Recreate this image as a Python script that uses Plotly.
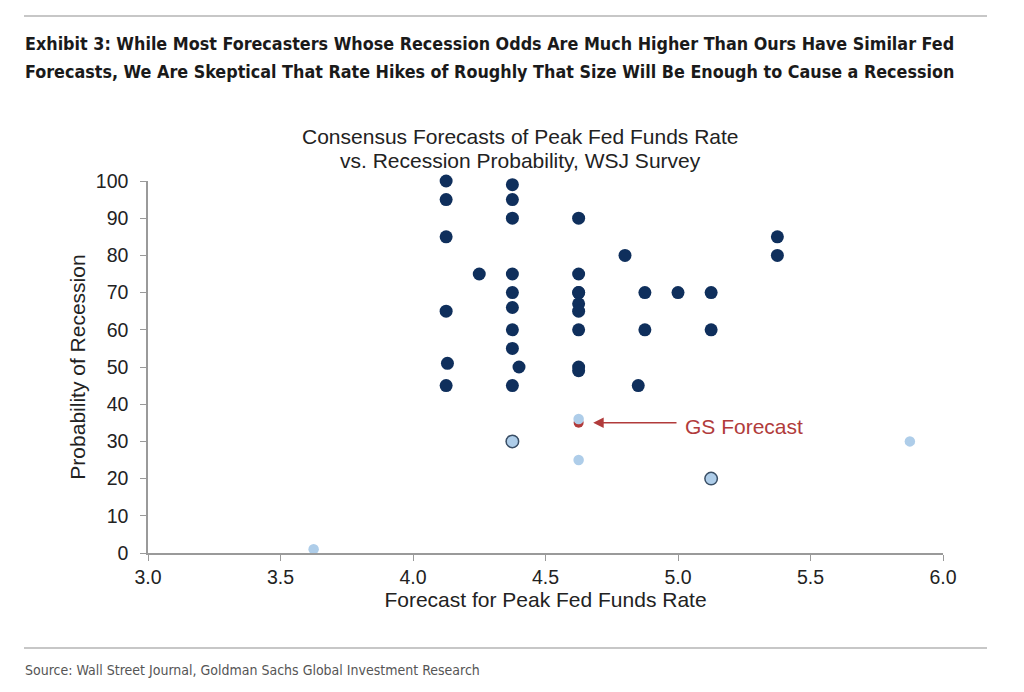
import plotly.graph_objects as go

# Dark navy: other forecasters
dark_x = [4.125, 4.125, 4.125, 4.125, 4.13, 4.125,
          4.25,
          4.375, 4.375, 4.375, 4.375, 4.375, 4.375, 4.375, 4.375, 4.375, 4.4, 4.375,
          4.625, 4.625, 4.625, 4.625, 4.625, 4.625, 4.625, 4.625, 4.625,
          4.8, 4.85, 4.875, 4.875, 5.0, 5.125, 5.125, 5.375, 5.375]
dark_y = [100, 95, 85, 65, 51, 45,
          75,
          99, 95, 90, 75, 70, 66, 60, 55, 45, 50, 30,
          90, 75, 70, 70, 67, 65, 60, 50, 49,
          80, 45, 70, 60, 70, 70, 60, 85, 80]

# Light blue points
light_x = [4.625, 4.625, 5.875, 3.625]
light_y = [36, 25, 30, 1]

# Light blue points with outline (overlapping observations)
outl_x = [4.375, 5.125]
outl_y = [30, 20]

# GS forecast
gs_x = [4.625]
gs_y = [35]

x_ticks = [3.0, 3.5, 4.0, 4.5, 5.0, 5.5, 6.0]
x_ticktext = ["3.0", "3.5", "4.0", "4.5", "5.0", "5.5", "6.0"]
y_ticks = [0, 10, 20, 30, 40, 50, 60, 70, 80, 90, 100]

title_lines = ["<b>Exhibit 3: While Most Forecasters Whose Recession Odds Are Much Higher Than Ours Have Similar Fed</b>",
               "<b>Forecasts, We Are Skeptical That Rate Hikes of Roughly That Size Will Be Enough to Cause a Recession</b>"]
subtitle_lines = ["Consensus Forecasts of Peak Fed Funds Rate",
                  "vs. Recession Probability, WSJ Survey"]
source_text = "Source: Wall Street Journal, Goldman Sachs Global Investment Research"

NAVY = "#0f2f5c"
LIGHT = "#aecde9"
RED = "#b13b3b"
GRAY = "#9a9a9a"
FONT = "Liberation Sans, Arial, sans-serif"
TITLE_FONT = "DejaVu Sans Condensed, Liberation Sans Narrow, sans-serif"

L, R, T, B = 140, 89, 173, 147
PW = 1024 - L - R   # plot width px
PH = 692 - T - B    # plot height px
OFF = 8             # page offset
plot_left = L + OFF
plot_top = T + OFF
plot_bottom = 692 - B + OFF

def px_x(px):
    return (px - plot_left) / PW

fig = go.Figure()
fig.add_trace(go.Scatter(x=dark_x, y=dark_y, mode="markers",
                         marker=dict(size=13, color=NAVY, line=dict(width=0)),
                         cliponaxis=False, showlegend=False))
fig.add_trace(go.Scatter(x=gs_x, y=gs_y, mode="markers",
                         marker=dict(size=10, color=RED, line=dict(width=0)),
                         cliponaxis=False, showlegend=False))
fig.add_trace(go.Scatter(x=light_x, y=light_y, mode="markers",
                         marker=dict(size=10.5, color=LIGHT, line=dict(width=0)),
                         cliponaxis=False, showlegend=False))
fig.add_trace(go.Scatter(x=outl_x, y=outl_y, mode="markers",
                         marker=dict(size=12.5, color=LIGHT, line=dict(width=1.5, color="#3a4f66")),
                         cliponaxis=False, showlegend=False))

axis_common = dict(showgrid=False, zeroline=False, showline=True, linecolor=GRAY,
                   linewidth=1.5, ticks="outside", tickcolor=GRAY, ticklen=6,
                   tickfont=dict(family=FONT, size=19.5, color="#222"))

fig.update_xaxes(range=[3, 6], tickvals=x_ticks, ticktext=x_ticktext,
                 ticklabelstandoff=0,
                 title=dict(text="Forecast for Peak Fed Funds Rate", standoff=0,
                            font=dict(family=FONT, size=21, color="#222")),
                 **axis_common)
fig.update_yaxes(range=[0, 100], tickvals=y_ticks, ticklabelstandoff=8,
                 title=dict(text="Probability of Recession", standoff=4,
                            font=dict(family=FONT, size=21, color="#222")),
                 **axis_common)

fig.add_annotation(x=4.68, y=35, ax=5.0, ay=35, axref="x", ayref="y",
                   xref="x", yref="y", text="", showarrow=True,
                   arrowhead=2, arrowsize=1.4, arrowwidth=1.5, arrowcolor=RED)
fig.add_annotation(x=5.02, y=34, xref="x", yref="y", text="GS Forecast",
                   showarrow=False, xanchor="left",
                   font=dict(family=FONT, size=21, color=RED))

# chart subtitle (two centred lines)
for line, cy in zip(subtitle_lines, [136, 160]):
    fig.add_annotation(xref="paper", yref="paper", x=px_x(520), y=1.0,
                       yshift=plot_top - cy, xanchor="center", yanchor="middle",
                       text=line, showarrow=False,
                       font=dict(family=FONT, size=21, color="#222"))

# exhibit title
for line, cy in zip(title_lines, [43, 71]):
    fig.add_annotation(xref="paper", yref="paper", x=px_x(23), y=1.0,
                       yshift=plot_top - cy, xanchor="left", yanchor="middle",
                       text=line, showarrow=False,
                       font=dict(family=TITLE_FONT, size=17.8, color="#1a1a1a"))

fig.add_annotation(xref="paper", yref="paper", x=px_x(23), y=0,
                   yshift=plot_bottom - 670, xanchor="left", yanchor="middle",
                   text=source_text, showarrow=False,
                   font=dict(family=TITLE_FONT, size=14, color="#555"))

# horizontal rules
x0, x1 = px_x(24), px_x(987)
fig.add_shape(type="line", xref="paper", yref="paper", x0=x0, x1=x1,
              y0=1.0 + (plot_top - 16) / PH, y1=1.0 + (plot_top - 16) / PH,
              line=dict(color="#b5b5b5", width=1.5))
fig.add_shape(type="line", xref="paper", yref="paper", x0=x0, x1=x1,
              y0=-(648 - plot_bottom) / PH, y1=-(648 - plot_bottom) / PH,
              line=dict(color="#b5b5b5", width=1.5))

fig.update_layout(width=1024, height=692,
                  margin=dict(l=L, r=R, t=T, b=B),
                  plot_bgcolor="white", paper_bgcolor="white",
                  font=dict(family=FONT))

fig.write_html("out.html")
